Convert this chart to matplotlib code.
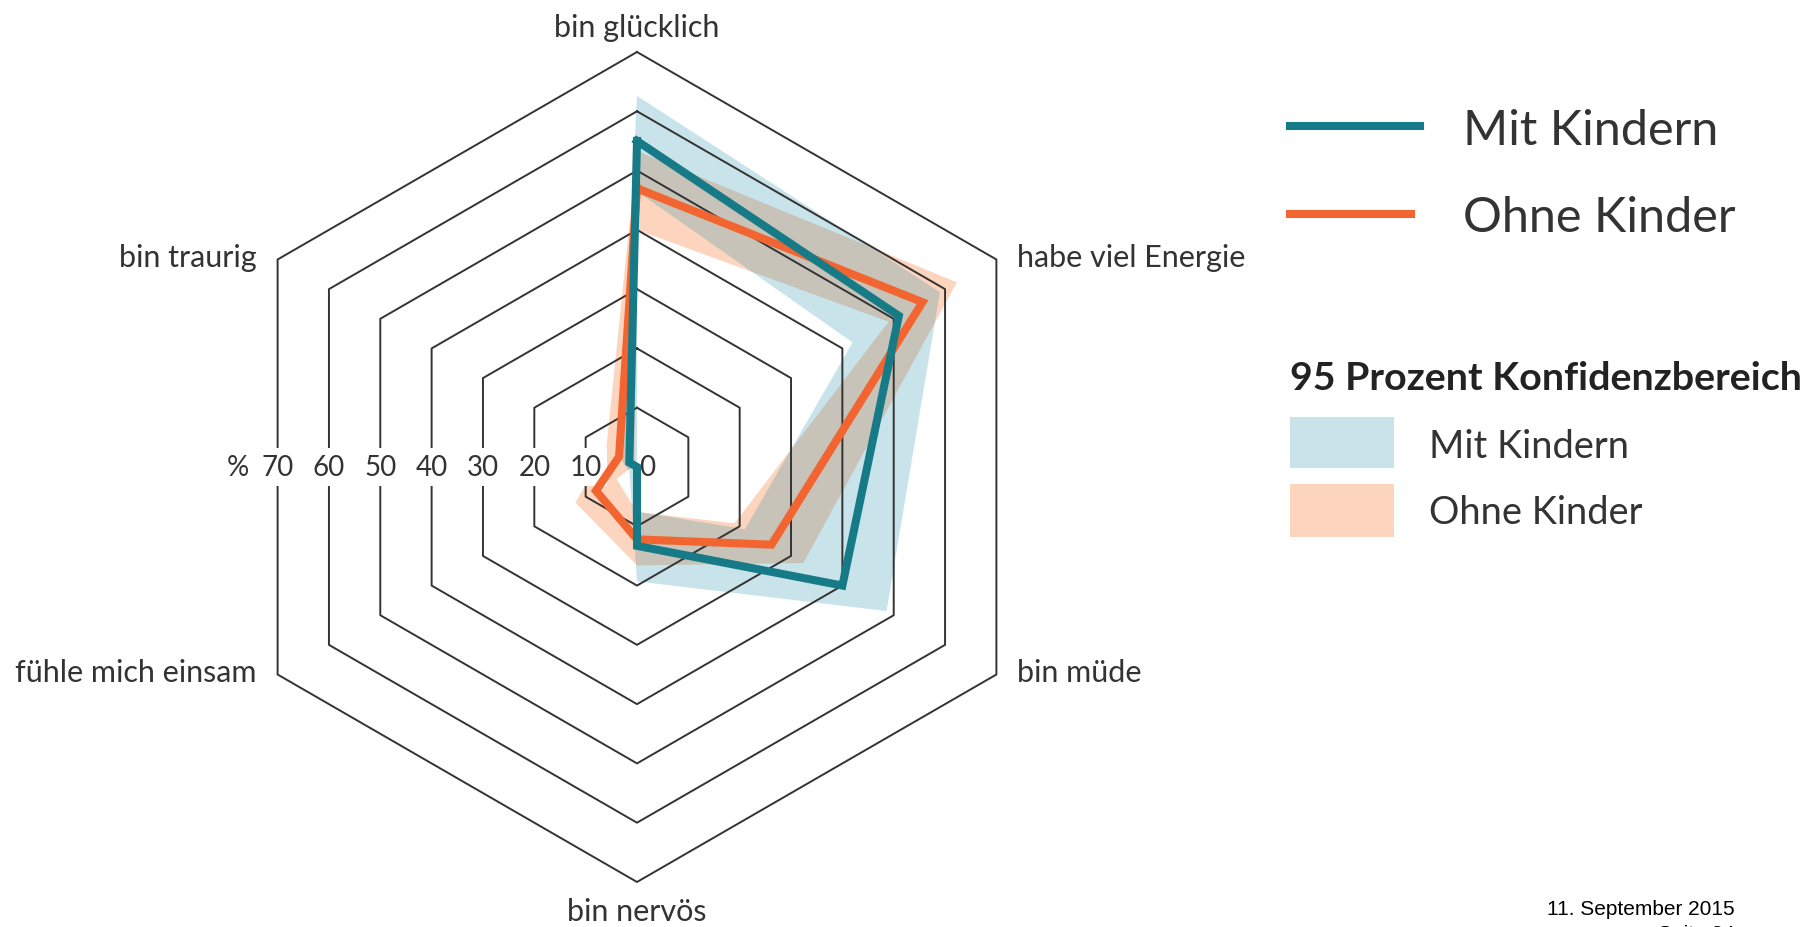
import numpy as np
import matplotlib.pyplot as plt
from matplotlib.path import Path
from matplotlib.patches import PathPatch, Rectangle
from matplotlib.lines import Line2D

plt.rcParams['font.family'] = ['Lato', 'DejaVu Sans']

# data (percent), axes clockwise from top
categories = ['bin glücklich', 'habe viel Energie', 'bin müde',
              'bin nervös', 'fühle mich einsam', 'bin traurig']
mit_kindern = [55.0, 51.0, 40.0, 13.3, 0.0, 1.5]
mit_lower = [46.5, 42.0, 21.0, 7.5, 0.0, 0.0]
mit_upper = [62.6, 59.0, 48.6, 19.3, 1.5, 3.5]
ohne_kinder = [47.0, 55.6, 26.2, 12.2, 8.0, 3.5]
ohne_lower = [40.0, 49.0, 19.0, 7.6, 4.0, 0.5]
ohne_upper = [53.3, 62.3, 32.4, 16.6, 12.0, 6.0]
rings = [10, 20, 30, 40, 50, 60, 70]

# colours
teal = '#177a87'
orange = '#f26530'
peach = '#fdd5be'
blue_fill = '#198aa8'   # drawn with alpha -> light blue
grid_col = '#333333'

W, H = 1810, 928
fig = plt.figure(figsize=(W / 100, H / 100), dpi=100)


def px(x, y):
    # pixel position (from top left) -> figure fraction
    return x / W, 1 - y / H


# polar axes centred on the hexagon
cx, cy, R = 637, 468, 415
ax = fig.add_axes([(cx - R) / W, (H - cy - R) / H, 2 * R / W, 2 * R / H], projection='polar')
ax.set_theta_offset(np.pi / 2)
ax.set_theta_direction(-1)
ax.set_ylim(0, 70)
ax.grid(False)
ax.set_xticks([])
ax.set_yticks([])
ax.spines['polar'].set_visible(False)
ax.patch.set_visible(False)

theta = np.arange(len(categories)) * 2 * np.pi / len(categories)
th_closed = np.append(theta, theta[0])


def closed(vals):
    return np.append(vals, vals[0])


def band(lower, upper, **kw):
    lo, up = closed(lower), closed(upper)
    verts = list(zip(th_closed, up)) + list(zip(th_closed[::-1], lo[::-1]))
    n = len(th_closed)
    codes = ([Path.MOVETO] + [Path.LINETO] * (n - 2) + [Path.CLOSEPOLY]) * 2
    patch = PathPatch(Path(verts, codes), transform=ax.transData, lw=0, **kw)
    ax.add_patch(patch)


# confidence bands
band(ohne_lower, ohne_upper, facecolor=peach, zorder=1)
band(mit_lower, mit_upper, facecolor=blue_fill, alpha=0.23, zorder=1.5)

# hexagonal grid
for r in rings:
    ax.plot(th_closed, [r] * len(th_closed), color=grid_col, lw=1.4, zorder=2, clip_on=False)

# ring labels on the left
for r in rings:
    ax.text(3 * np.pi / 2, r * np.cos(np.pi / 6), str(r), ha='center', va='center',
            fontsize=20, color='#333333', zorder=3,
            bbox=dict(facecolor='white', edgecolor='none', pad=4))
ax.text(np.pi / 2, 1.7, '0', ha='center', va='center', fontsize=20, color='#333333', zorder=3)
ax.text(3 * np.pi / 2, 67.3, '%', ha='center', va='center', fontsize=20, color='#333333', zorder=3,
        bbox=dict(facecolor='white', edgecolor='none', pad=4))

# series lines
ax.plot(th_closed, closed(ohne_kinder), color=orange, lw=5.8, zorder=4,
        solid_joinstyle='miter', clip_on=False)
ax.plot(th_closed, closed(mit_kindern), color=teal, lw=5.8, zorder=5,
        solid_joinstyle='miter', clip_on=False)

# category labels
offsets = [(0, 16, 'center'), (21, -7, 'left'), (21, -7, 'left'),
           (0, -38, 'center'), (-21, -7, 'right'), (-21, -7, 'right')]
for t, lab, (dx, dy, ha) in zip(theta, categories, offsets):
    ax.annotate(lab, xy=(t, 70), xytext=(dx, dy), textcoords='offset pixels',
                ha=ha, va='baseline', fontsize=22, color='#333333', annotation_clip=False)

# legend: lines
fig.add_artist(Line2D([px(1290, 0)[0], px(1420, 0)[0]], [px(0, 127)[1]] * 2, color=teal, lw=5.8))
fig.add_artist(Line2D([px(1290, 0)[0], px(1411, 0)[0]], [px(0, 215)[1]] * 2, color=orange, lw=5.8))
fig.text(*px(1463, 131), 'Mit Kindern', fontsize=35, va='center', color='#333333')
fig.text(*px(1463, 218), 'Ohne Kinder', fontsize=35, va='center', color='#333333')

# legend: confidence bands
fig.text(*px(1290, 378), '95 Prozent Konfidenzbereich', fontsize=28.4, fontweight='bold',
         va='center', color='#222222')
x0, y0 = px(1290, 469)
fig.add_artist(Rectangle((x0, y0), 104 / W, 51 / H, transform=fig.transFigure,
                         facecolor=blue_fill, alpha=0.23, lw=0))
x0, y0 = px(1290, 538)
fig.add_artist(Rectangle((x0, y0), 104 / W, 53 / H, transform=fig.transFigure,
                         facecolor=peach, lw=0))
fig.text(*px(1429, 447), 'Mit Kindern', fontsize=27.4, va='center', color='#333333')
fig.text(*px(1429, 513), 'Ohne Kinder', fontsize=27.4, va='center', color='#333333')

# footer (the page number is cut off at the bottom edge, as in the original)
fig.text(*px(1735, 915), '11. September 2015', ha='right', va='baseline', fontsize=15,
         family='Liberation Sans', color='black')
fig.text(*px(1735, 940), 'Seite 34', ha='right', va='baseline', fontsize=15,
         family='Liberation Sans', color='black')

fig.savefig('out.png', dpi=100)
